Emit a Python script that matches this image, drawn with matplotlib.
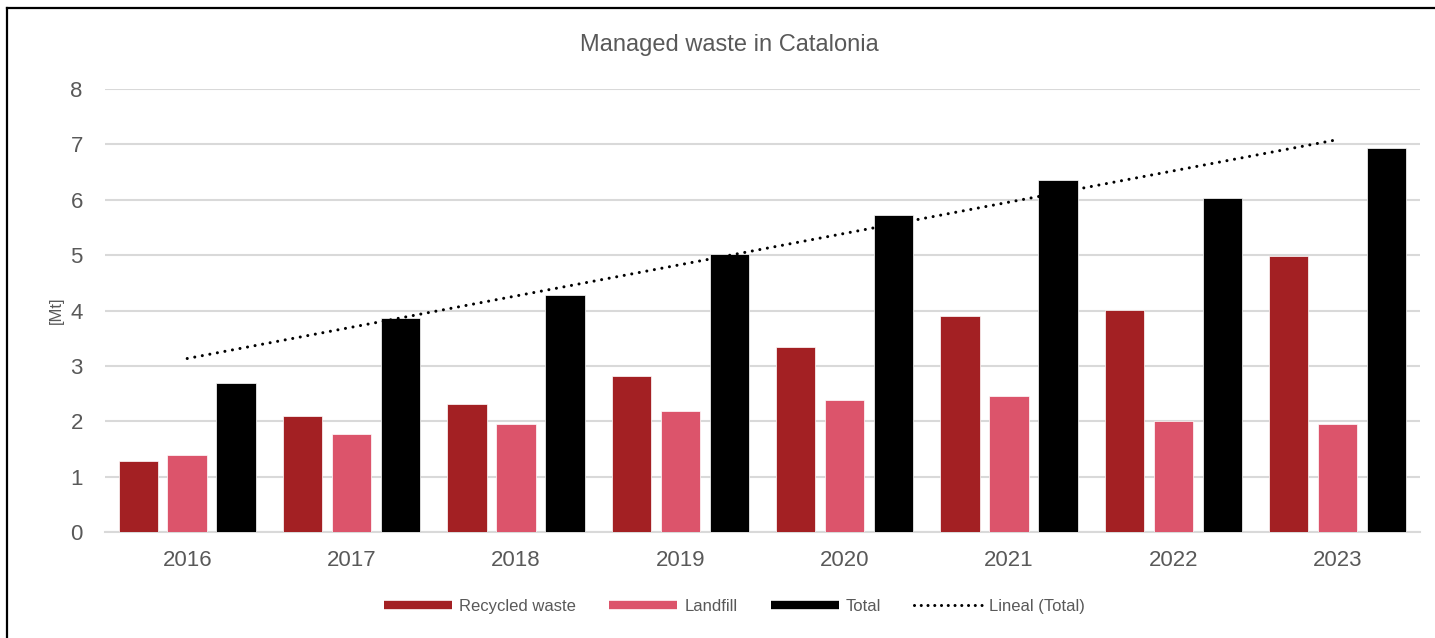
import numpy as np
import matplotlib
matplotlib.use("Agg")
import matplotlib.pyplot as plt
from matplotlib.lines import Line2D

# ==========================
# Data
# ==========================
years = ["2016", "2017", "2018", "2019", "2020", "2021", "2022", "2023"]
recycled = [1.29, 2.09, 2.31, 2.82, 3.34, 3.90, 4.01, 4.98]
landfill = [1.39, 1.77, 1.95, 2.18, 2.38, 2.45, 2.00, 1.95]
total = [2.69, 3.86, 4.28, 5.02, 5.72, 6.35, 6.03, 6.93]

c_recycled = "#A32023"
c_landfill = "#DC546B"
c_total = "#000000"
c_text = "#595959"
c_grid = "#D9D9D9"

plt.rcParams['font.family'] = ['Liberation Sans', 'DejaVu Sans']

fig = plt.figure(figsize=(14.35, 6.38), dpi=100)
ax = fig.add_axes([0.0732, 0.1661, 0.9163, 0.6944])

x = np.arange(len(years))
w = 0.24
off = 0.298
ax.bar(x - off, recycled, w, color=c_recycled, edgecolor="white", linewidth=0.5, zorder=3)
ax.bar(x, landfill, w, color=c_landfill, edgecolor="white", linewidth=0.5, zorder=3)
ax.bar(x + off, total, w, color=c_total, edgecolor="white", linewidth=0.5, zorder=3)

# linear trend of the totals
k, b = np.polyfit(x, total, 1)
ax.plot(x, k * x + b, color="black", lw=2.2, linestyle=(0, (0.01, 2.5)),
        dash_capstyle="round", zorder=4)

ax.set_xlim(-0.5, len(years) - 0.5)
ax.set_ylim(0, 8)
ax.set_yticks(range(0, 9))
ax.set_xticks(x)
ax.set_xticklabels(years)
ax.tick_params(axis="both", length=0, labelsize=16, labelcolor=c_text)
ax.tick_params(axis="y", pad=16)
ax.tick_params(axis="x", pad=13)
ax.yaxis.grid(True, color=c_grid, lw=1.5, zorder=0)
ax.set_axisbelow(True)
for s in ["top", "right", "left"]:
    ax.spines[s].set_visible(False)
ax.spines["bottom"].set_color(c_grid)
ax.spines["bottom"].set_linewidth(1.5)
ax.set_ylabel("[Mt]", fontsize=12, color=c_text, labelpad=5)

fig.text(0.508, 0.929, "Managed waste in Catalonia", ha="center", va="center",
         fontsize=17, color=c_text)

handles = [
    Line2D([], [], color=c_recycled, lw=6, solid_capstyle="butt"),
    Line2D([], [], color=c_landfill, lw=6, solid_capstyle="butt"),
    Line2D([], [], color=c_total, lw=6, solid_capstyle="butt"),
    Line2D([], [], color="black", lw=2.2, linestyle=(0, (0.01, 2.2)), dash_capstyle="round"),
]
labels = ["Recycled waste", "Landfill", "Total", "Lineal (Total)"]
fig.legend(handles, labels, loc="center", bbox_to_anchor=(0.512, 0.049), ncol=4,
           frameon=False, fontsize=12, labelcolor=c_text, handlelength=4.07,
           handletextpad=0.42, columnspacing=2.0)

# outer frame (left and top edges visible)
fig.add_artist(Line2D([0.0052, 0.0052], [0, 0.988], color="black", lw=1.6, transform=fig.transFigure))
fig.add_artist(Line2D([0.0052, 1.0], [0.988, 0.988], color="black", lw=1.6, transform=fig.transFigure))

fig.savefig("out.png", dpi=100)
